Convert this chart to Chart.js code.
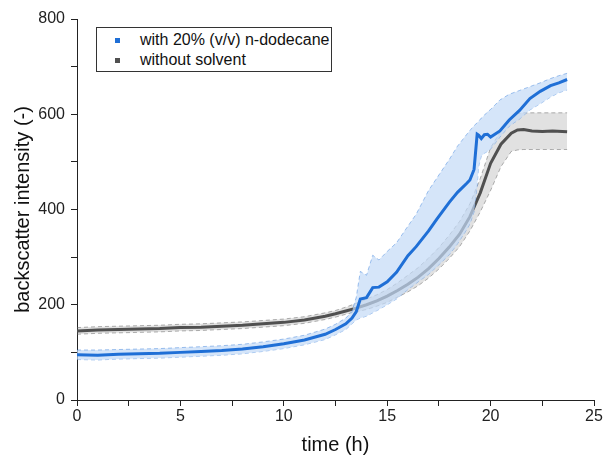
<!DOCTYPE html>
<html>
<head>
<meta charset="utf-8">
<script src="https://cdn.jsdelivr.net/npm/chart.js@4/dist/chart.umd.min.js"></script>
<style>
  body { margin: 0; background: #fff; }
  #wrap { position: relative; width: 604px; height: 461px; }
  #legend {
    position: absolute; left: 96px; top: 27px; width: 234px; height: 43px;
    border: 1px solid #333; background: #fff;
    font-family: "Liberation Sans", Arial, sans-serif; font-size: 16px; color: #111;
  }
  #legend div { position: absolute; left: 43px; white-space: nowrap; }
  #legend span { position: absolute; left: -25px; top: 7px; width: 5px; height: 5px; }
</style>
</head>
<body>
<div id="wrap">
  <canvas id="grafico"></canvas>
  <div id="legend">
    <div style="top:3px"><span style="background:#1f6fd6"></span>with 20% (v/v) n-dodecane</div>
    <div style="top:23px"><span style="background:#505050"></span>without solvent</div>
  </div>
</div>
<script>
// with 20% (v/v) n-dodecane
var tempoAzul = [0,1,2,3,4,5,6,7,8,9,10, 11,12,12.5,13,13.3,13.5,13.7, 14,14.3,14.6,15,15.45,16,16.4, 17,17.4,18,18.4,18.85,19, 19.2,19.35,19.42,19.55,19.7,19.85,20, 20.45,20.9,21.4,21.9,22.4,22.9,23.3,23.7];
var mediaAzul = [95,94,96,97,98,100,102,104,107,112,118, 126,138,148,160,172,185,212, 215,236,237,248,268,303,322, 355,380,415,436,455,462, 484,558,556,549,557,558,552, 565,588,608,633,648,660,666,673];
var superiorAzul = [105,105,106,107,108,110,112,114,117,122,128, 136,149,159,172,186,215,270, 262,304,294,312,330,365,390, 440,466,505,533,558,566, 576,582,585,592,598,605,610, 630,642,650,658,666,675,681,686];
var inferiorAzul = [85,84,86,87,88,90,92,94,97,102,108, 116,127,137,148,160,168,172, 176,183,190,200,212,232,245, 264,280,305,328,358,370, 395,450,490,512,518,522,527, 552,575,590,609,622,636,645,651];

// without solvent
var tempoCinza = [0,1,2,3,4,5,6,7,8,9,10,11,12, 12.5,13,13.5,14,14.5,15,15.5,16,16.5,17,17.5,18,18.5,19,19.5,20,20.5,21, 21.3,21.6,22,22.5,23,23.7];
var mediaCinza = [145,147,148,149,150,152,153,155,157,160,163,168,176, 181,187,193,200,208,218,230,243,258,276,297,321,348,385,435,497,537,560, 567,568,565,564,565,563];
var superiorCinza = [152,154,155,156,157,159,160,162,164,167,170,175,183, 188,195,203,212,221,232,246,262,278,298,320,346,375,412,465,530,565,595, 602,603,603,603,603,603];
var inferiorCinza = [138,140,141,142,143,145,146,148,150,153,156,161,169, 174,180,185,190,197,205,216,227,240,256,275,297,322,355,395,440,490,522, 525,526,526,526,526,526];

var ticksX = [0, 5, 10, 15, 20, 25];
var ticksY = [0, 200, 400, 600, 800];

function pontos(t, v) {
    return t.map(function (x, i) { return { x: x, y: v[i] }; });
}

var fonte = "'Liberation Sans', Arial, sans-serif";

new Chart(document.getElementById("grafico"), {
    type: 'line',
    data: {
        datasets: [{
            label: "with 20% (v/v) n-dodecane",
            data: pontos(tempoAzul, mediaAzul),
            borderColor: "#1f6fd6",
            borderWidth: 3,
            fill: false
        }, {
            label: "upper",
            data: pontos(tempoAzul, superiorAzul),
            borderColor: "rgba(31,111,214,0.5)",
            borderWidth: 0.8,
            borderDash: [4, 3],
            backgroundColor: "rgba(195,218,247,0.7)",
            fill: '+1'
        }, {
            label: "lower",
            data: pontos(tempoAzul, inferiorAzul),
            borderColor: "rgba(31,111,214,0.5)",
            borderWidth: 0.8,
            borderDash: [4, 3],
            fill: false
        }, {
            label: "without solvent",
            data: pontos(tempoCinza, mediaCinza),
            borderColor: "#505050",
            borderWidth: 3,
            fill: false
        }, {
            label: "upper",
            data: pontos(tempoCinza, superiorCinza),
            borderColor: "rgba(90,90,90,0.6)",
            borderWidth: 0.8,
            borderDash: [4, 3],
            backgroundColor: "rgba(120,120,120,0.22)",
            fill: '+1'
        }, {
            label: "lower",
            data: pontos(tempoCinza, inferiorCinza),
            borderColor: "rgba(90,90,90,0.6)",
            borderWidth: 0.8,
            borderDash: [4, 3],
            fill: false
        }]
    },
    options: {
        responsive: true,
        maintainAspectRatio: false,
        animation: false,
        elements: { point: { radius: 0 }, line: { tension: 0 } },
        layout: { padding: { left: 0, right: 10, top: 19, bottom: 0 } },
        plugins: {
            legend: { display: false },
            tooltip: { enabled: false },
            filler: { drawTime: 'beforeDatasetDraw' }
        },
        scales: {
            x: {
                type: 'linear',
                min: 0,
                max: 25,
                afterFit: function (s) { s.height = 61; },
                afterBuildTicks: function (s) {
                    var t = [];
                    for (var v = 0; v <= 25; v += 2.5) t.push({ value: v });
                    s.ticks = t;
                },
                ticks: {
                    autoSkip: false,
                    maxRotation: 0,
                    padding: 1,
                    color: "#222",
                    font: { family: fonte, size: 16 },
                    callback: function (v) { return ticksX.indexOf(v) >= 0 ? String(v) : ''; }
                },
                grid: { drawOnChartArea: false, tickLength: 6, tickColor: "#222" },
                border: { color: "#222", width: 1 },
                title: {
                    display: true,
                    text: "time (h)",
                    color: "#111",
                    font: { family: fonte, size: 20 },
                    padding: { top: 0, bottom: 4 }
                }
            },
            y: {
                min: 0,
                max: 800,
                afterFit: function (s) { s.width = 77; },
                afterBuildTicks: function (s) {
                    var t = [];
                    for (var v = 0; v <= 800; v += 100) t.push({ value: v });
                    s.ticks = t;
                },
                ticks: {
                    autoSkip: false,
                    padding: 6,
                    color: "#222",
                    font: { family: fonte, size: 16 },
                    callback: function (v) { return ticksY.indexOf(v) >= 0 ? String(v) : ''; }
                },
                grid: { drawOnChartArea: false, tickLength: 6, tickColor: "#222" },
                border: { color: "#222", width: 1 },
                title: {
                    display: true,
                    text: "backscatter intensity (-)",
                    color: "#111",
                    font: { family: fonte, size: 20 },
                    padding: { top: 11, bottom: 0 }
                }
            }
        }
    }
});
</script>
</body>
</html>
